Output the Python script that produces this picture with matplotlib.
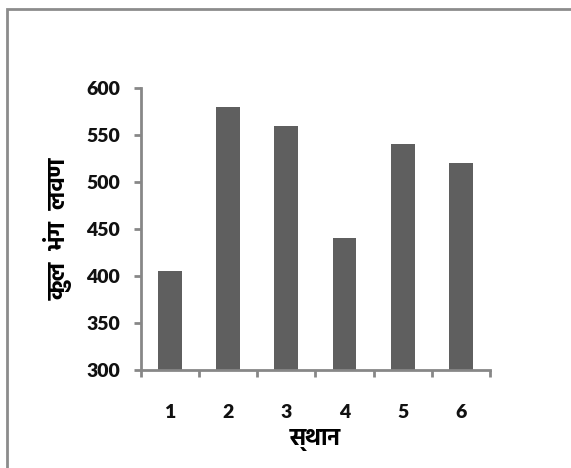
import matplotlib
matplotlib.use("Agg")
import matplotlib.pyplot as plt
from matplotlib.patches import Rectangle

locations = [1, 2, 3, 4, 5, 6]
salt_totals = [405, 580, 560, 440, 540, 520]
y_ticks = [300, 350, 400, 450, 500, 550, 600]
x_label = "स्थान"
y_label = "कुल  भंग  लवण"

num_font = ["Lato", "DejaVu Sans"]
hindi_font = ["Hind", "Noto Sans Devanagari", "DejaVu Sans"]
axis_grey = "#878787"

fig = plt.figure(figsize=(5.71, 4.68), dpi=100)
ax = fig.add_axes([0.247, 0.209, 0.611, 0.603])

ax.bar(locations, salt_totals, width=0.41, color="#5f5f5f", zorder=2)

ax.set_xlim(0.5, 6.5)
ax.set_ylim(300, 600)
ax.set_yticks(y_ticks)
ax.set_xticks(locations)
ax.set_xticks([x + 0.5 for x in [0] + locations], minor=True)

for s in ["top", "right"]:
    ax.spines[s].set_visible(False)
for s in ["left", "bottom"]:
    ax.spines[s].set_color(axis_grey)
    ax.spines[s].set_linewidth(2)

ax.tick_params(axis="y", length=5, width=2, color=axis_grey, pad=10)
ax.tick_params(axis="x", which="major", length=0, pad=24)
ax.tick_params(axis="x", which="minor", length=5, width=2, color=axis_grey)

for lab in ax.get_xticklabels() + ax.get_yticklabels():
    lab.set_family(num_font)
    lab.set_fontweight("heavy")
    lab.set_fontsize(14)
    lab.set_color("#111111")

ax.set_xlabel(x_label, family=hindi_font, fontweight="bold", fontsize=17, labelpad=6)
ax.set_ylabel(y_label, family=hindi_font, fontweight="bold", fontsize=17.5, labelpad=10)

# outer chart frame (only left and top edges fall inside the image)
fig.patches.append(Rectangle((7 / 571, -0.1), 1.2, 1 - 9 / 468 + 0.1,
                             transform=fig.transFigure, fill=False,
                             edgecolor="#8c8c8c", linewidth=2))

fig.savefig("out.png", dpi=100, facecolor="white")
